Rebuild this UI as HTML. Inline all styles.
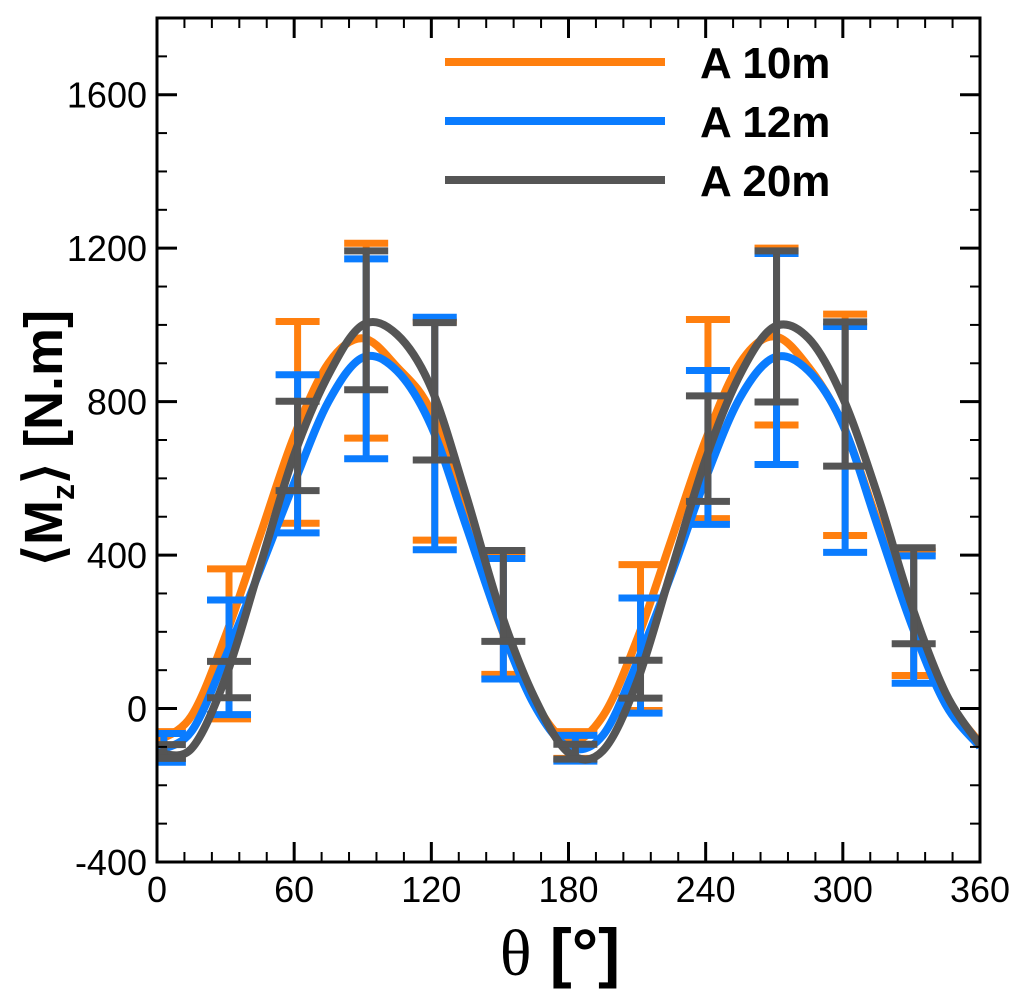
<!DOCTYPE html>
<html><head><meta charset="utf-8"><style>
html,body{margin:0;padding:0;background:#fff;width:1033px;height:999px;overflow:hidden}
svg{display:block}
text{font-family:"Liberation Sans",sans-serif}
</style></head><body>
<svg id="chart" width="1033" height="999" viewBox="0 0 1033 999" xmlns="http://www.w3.org/2000/svg">
<defs><clipPath id="clip"><rect x="157" y="18" width="823" height="844"/></clipPath></defs>
<g id="marks" clip-path="url(#clip)"></g>
<g id="axes"></g>
</svg>
<script>
const categories = ["A 10m","A 12m","A 20m"];
const curveTheta = [0,15,30,45,60,75,90,105,120,135,150,165,180,195,210,225,240,255,270,285,300,315,330,345,360];
const curveA10 = [-85,-20,190,450,710,900,965,890,772,500,219,20,-85,-20,180,440,700,900,970,890,740,490,230,30,-90];
const curveA12 = [-110,-60,135,360,588,800,915,880,736,480,221,10,-100,-70,120,350,600,810,915,880,740,480,220,10,-100];
const curveA20 = [-115,-105,81,370,661,870,1000,975,835,560,258,30,-115,-110,70,360,650,870,995,965,810,560,270,40,-95];
const barTheta = [3,31.5,61.5,91.5,121.5,151.5,183,211.5,241,271,301,331];
const barA10Top = [-60,364,1009,1213,1010,405,-60,375,1014,1200,1028,410];
const barA10Bot = [-130,-27,483,705,439,89,-130,-5,495,739,451,86];
const barA12Top = [-65,283,870,1172,1020,391,-70,288,881,1186,996,398];
const barA12Bot = [-140,-16,458,651,414,77,-137,-12,480,636,407,66];
const barA20Top = [-94,123,801,1193,1006,412,-93,126,815,1193,1008,419];
const barA20Bot = [-130,28,568,831,648,175,-132,27,540,799,632,169];
const xTicks = [0,60,120,180,240,300,360];
const yTicks = [-400,0,400,800,1200,1600];
const colors = ["#ff7f0e","#0a7cff","#555555"];

const NS="http://www.w3.org/2000/svg";
const X0=157,X1=980,Y0=862,Y1=18,VMIN=-400,VMAX=1800;
function sx(t){return X0+(t-0)/(360-0)*(X1-X0);}
function sy(v){return Y0-(v-VMIN)/(VMAX-VMIN)*(Y0-Y1);}
function el(tag,attrs,parent){const e=document.createElementNS(NS,tag);for(const k in attrs)e.setAttribute(k,attrs[k]);parent.appendChild(e);return e;}
const marks=document.getElementById('marks'), axes=document.getElementById('axes');

function smoothPath(xs,ys){
  const p=xs.map((x,i)=>[sx(x),sy(ys[i])]);
  let d="M"+p[0][0]+","+p[0][1];
  for(let i=0;i<p.length-1;i++){
    const p0=p[Math.max(0,i-1)],p1=p[i],p2=p[i+1],p3=p[Math.min(p.length-1,i+2)];
    const c1=[p1[0]+(p2[0]-p0[0])/6,p1[1]+(p2[1]-p0[1])/6];
    const c2=[p2[0]-(p3[0]-p1[0])/6,p2[1]-(p3[1]-p1[1])/6];
    d+=" C"+c1[0]+","+c1[1]+" "+c2[0]+","+c2[1]+" "+p2[0]+","+p2[1];
  }
  return d;
}
const curves=[curveA10,curveA12,curveA20];
const tops=[barA10Top,barA12Top,barA20Top], bots=[barA10Bot,barA12Bot,barA20Bot];
for(let s=0;s<3;s++){
  const g=el('g',{},marks);
  
  
  const path=el('path',{d:smoothPath(curveTheta,curves[s]),fill:'none',stroke:colors[s],'stroke-width':8,'stroke-linejoin':'round'},g);
  
  
  for(let i=0;i<barTheta.length;i++){
    const x=sx(barTheta[i]),yt=sy(tops[s][i]),yb=sy(bots[s][i]);
    const eb=el('g',{stroke:colors[s],'stroke-width':7},g);
    
    
    el('line',{x1:x,x2:x,y1:yt,y2:yb},eb);
    el('line',{x1:x-22,x2:x+22,y1:yt,y2:yt},eb);
    el('line',{x1:x-22,x2:x+22,y1:yb,y2:yb},eb);
  }
}
const frame=el('rect',{x:X0,y:Y1,width:X1-X0,height:Y0-Y1,fill:'none',stroke:'#000','stroke-width':3},axes);


for(let t=0;t<=360;t+=12){
  const major=t%60===0,len=major?20:10,x=sx(t);
  el('line',{x1:x,x2:x,y1:Y0,y2:Y0-len,stroke:'#000','stroke-width':major?3:2},axes);
  el('line',{x1:x,x2:x,y1:Y1,y2:Y1+len,stroke:'#000','stroke-width':major?3:2},axes);
}
for(let v=-400;v<=1800;v+=100){
  const major=v%400===0,len=major?20:10,y=sy(v);
  el('line',{x1:X0,x2:X0+len,y1:y,y2:y,stroke:'#000','stroke-width':major?3:2},axes);
  el('line',{x1:X1,x2:X1-len,y1:y,y2:y,stroke:'#000','stroke-width':major?3:2},axes);
}
xTicks.forEach(t=>{
  const tx=el('text',{x:sx(t),y:902,'font-size':36,'text-anchor':'middle',fill:'#000'},axes);
  tx.textContent=t;
  
  
});
yTicks.forEach(v=>{
  const tx=el('text',{x:147,y:sy(v)+13,'font-size':36,'text-anchor':'end',fill:'#000'},axes);
  tx.textContent=v;
  
  
});
const xt=el('text',{x:560,y:975,'font-size':66,'text-anchor':'middle','font-weight':'bold',fill:'#000'},axes);
xt.innerHTML='<tspan font-family="Liberation Serif" font-weight="normal">θ</tspan> [°]';


const yt=el('text',{x:0,y:0,'font-size':54,'text-anchor':'middle','font-weight':'bold',fill:'#000',transform:'translate(62,438) rotate(-90)'},axes);
yt.innerHTML='⟨M<tspan font-size="32" dy="12">z</tspan><tspan dy="-12">⟩ [N.m]</tspan>';


const lg=el('g',{},axes);


categories.forEach((c,i)=>{
  const y=62+i*59;
  const e=el('g',{},lg);
  
  
  el('line',{x1:445,x2:665,y1:y,y2:y,stroke:colors[i],'stroke-width':8},e);
  const t=el('text',{x:700,y:y+16,'font-size':44,'font-weight':'bold',fill:'#000'},e);
  t.textContent=c;
});
</script>
</body></html>
